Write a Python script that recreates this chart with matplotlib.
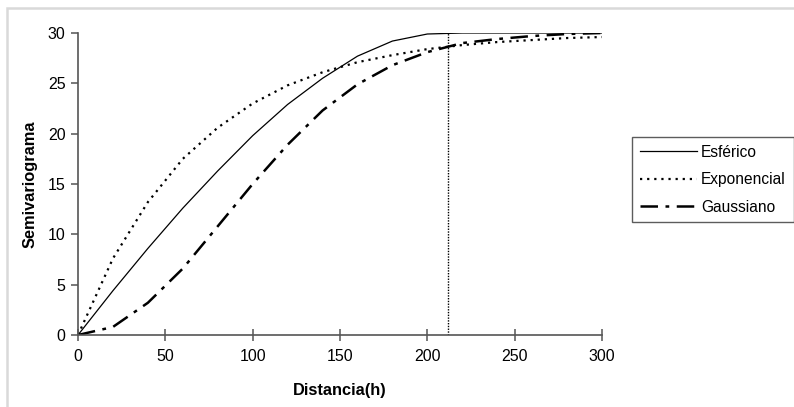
import matplotlib
matplotlib.use("Agg")
import matplotlib.pyplot as plt
from matplotlib.lines import Line2D

plt.rcParams['font.family'] = ['Liberation Sans', 'DejaVu Sans']

distancia = [0, 20, 40, 60, 80, 100, 120, 140, 160, 180, 200, 220, 240, 260, 280, 300]
esferico = [0, 4.4, 8.6, 12.6, 16.3, 19.8, 22.9, 25.5, 27.7, 29.2, 29.9, 30, 30, 30, 30, 30]
exponencial = [0, 7.6, 13.2, 17.5, 20.6, 23.0, 24.8, 26.1, 27.1, 27.8, 28.4, 28.8, 29.1, 29.3, 29.5, 29.6]
gaussiano = [0, 0.8, 3.2, 6.6, 10.8, 15.0, 18.9, 22.3, 24.9, 26.8, 28.1, 29.0, 29.4, 29.7, 29.9, 30]
alcance = 212

xticks = [0, 50, 100, 150, 200, 250, 300]
yticks = [0, 5, 10, 15, 20, 25, 30]

fig = plt.figure(figsize=(7.94, 4.07), dpi=100)
ax = fig.add_axes([78/794, 1-335/407, (602-78)/794, (335-33)/407])

spine_c = '#555555'
ax.plot(distancia, esferico, color='black', lw=0.9, label='Esférico')
ax.plot(distancia, exponencial, color='black', lw=1.6, linestyle=(0, (1, 2.2)), label='Exponencial')
ax.plot(distancia, gaussiano, color='black', lw=1.8, linestyle=(0, (7, 3, 1.5, 3)), label='Gaussiano')
ax.axvline(alcance, ymin=0, ymax=1, color='black', lw=1.0, linestyle=(0, (1, 1)))

ax.set_xlim(0, 300)
ax.set_ylim(0, 30)
ax.set_xticks(xticks)
ax.set_yticks(yticks)
for s in ['top', 'right']:
    ax.spines[s].set_visible(False)
for s in ['left', 'bottom']:
    ax.spines[s].set_color(spine_c)
    ax.spines[s].set_linewidth(1.2)
ax.tick_params(axis='x', direction='inout', length=8, width=1.1, color=spine_c, labelsize=11.5, pad=6)
ax.tick_params(axis='y', direction='out', length=5, width=1.1, color=spine_c, labelsize=11.5, pad=4)
ax.set_xlabel('Distancia(h)', fontsize=11.8, fontweight='bold')
ax.xaxis.set_label_coords(0.5, -0.16)
ax.set_ylabel('Semivariograma', fontsize=11.8, fontweight='bold')
ax.yaxis.set_label_coords(-0.077, 0.5)

handles = [
    Line2D([], [], color='black', lw=0.9),
    Line2D([], [], color='black', lw=1.6, linestyle=(0, (1, 2.2))),
    Line2D([], [], color='black', lw=1.8, linestyle=(0, (7, 3, 1.5, 3))),
]
leg = fig.legend(handles, ['Esférico', 'Exponencial', 'Gaussiano'],
                 loc='upper left', bbox_to_anchor=(632/794, 1-137/407),
                 frameon=True, fancybox=False, fontsize=11.2, handlelength=3.7,
                 handletextpad=0.25, borderpad=0.5, labelspacing=0.8, borderaxespad=0)
leg.get_frame().set_edgecolor('#333333')
leg.get_frame().set_linewidth(1.0)

# figure frame
fig.add_artist(plt.Rectangle((7/794, -0.05), 1.1, 1 - 8/407 + 0.05, transform=fig.transFigure,
                             fill=False, edgecolor='#d9d9d9', lw=1.8))

fig.savefig('out.png', dpi=100)
